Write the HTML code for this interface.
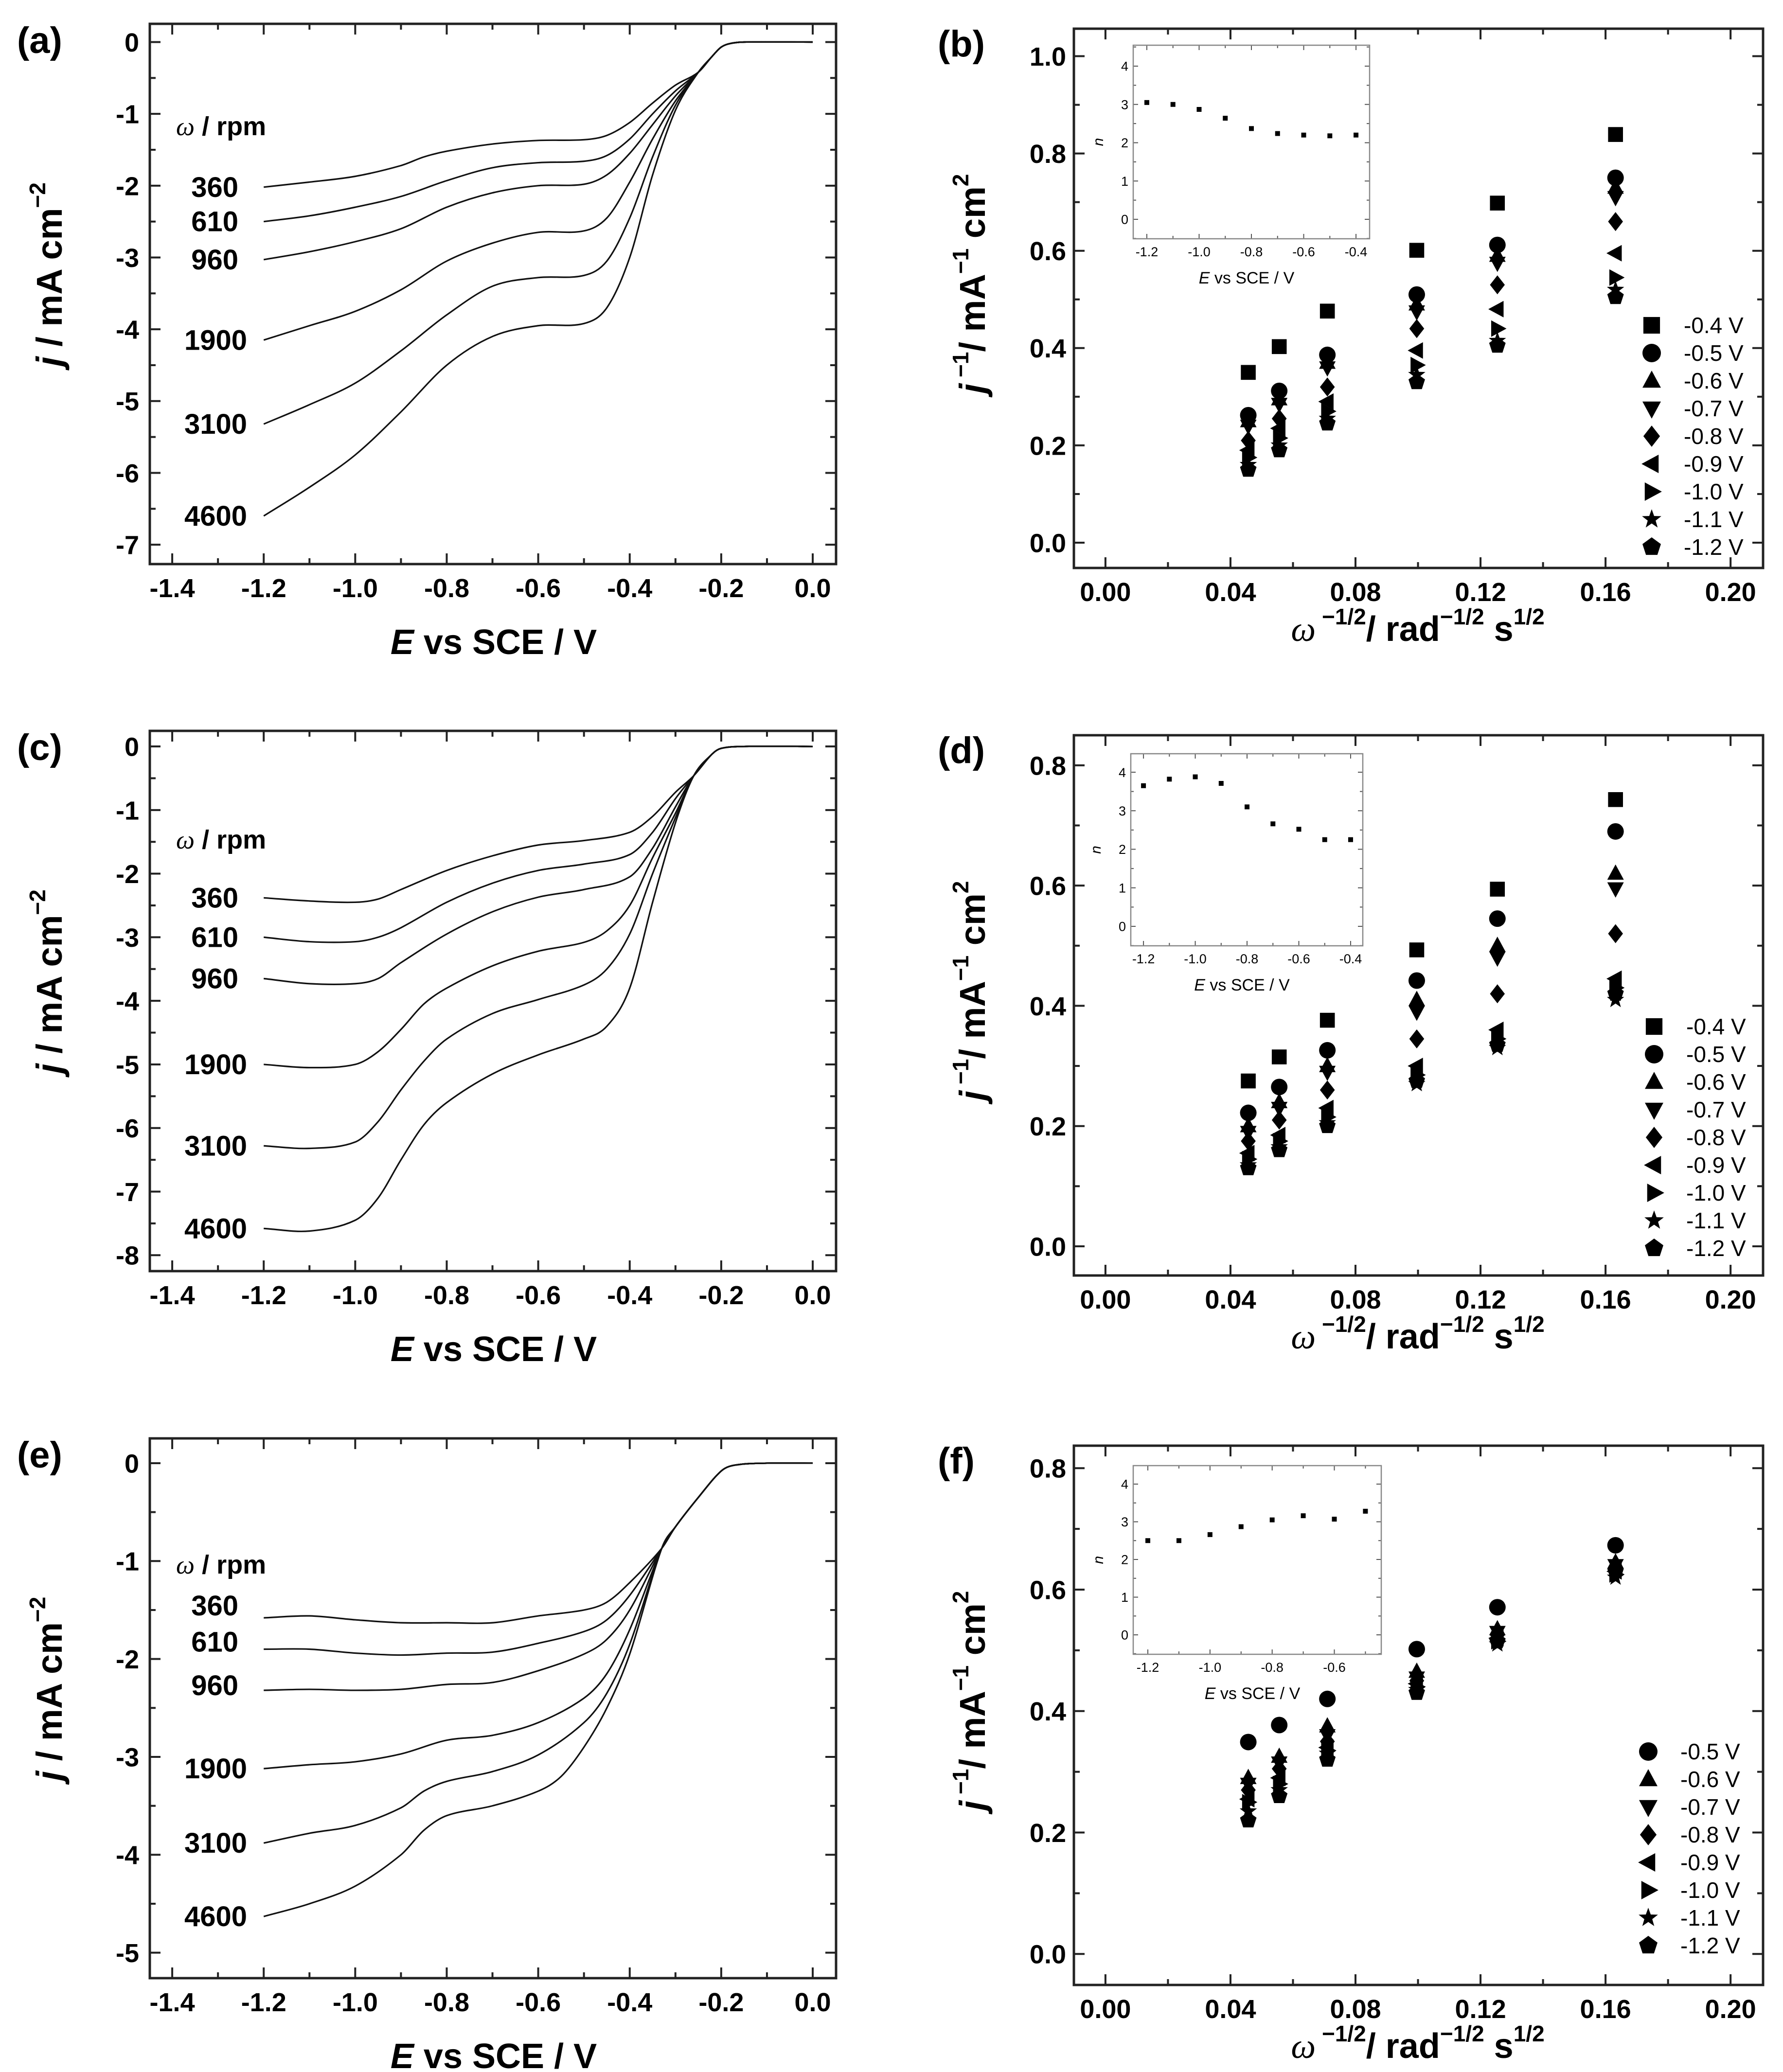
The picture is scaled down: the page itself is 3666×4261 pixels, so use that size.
<!DOCTYPE html>
<html><head><meta charset="utf-8"><style>
html,body{margin:0;padding:0;background:#fff;}
svg{display:block;}
text{font-family:"Liberation Sans",Arial,sans-serif;fill:#000;}
</style></head><body>
<svg id="fig" xmlns="http://www.w3.org/2000/svg" width="3666" height="4261" viewBox="0 0 3666 4261">
<rect width="3666" height="4261" fill="#fff"/>
</svg>
<script>
// ---------- data: panel (a) LSV curves [E, j] ----------
const rpmLabels = ["360","610","960","1900","3100","4600"];
const a360=[[-1.2,-2.02],[-1.1,-1.95],[-1.0,-1.87],[-0.9,-1.72],[-0.85,-1.6],[-0.8,-1.52],[-0.7,-1.42],[-0.6,-1.37],[-0.5,-1.36],[-0.45,-1.3],[-0.4,-1.12],[-0.35,-0.85],[-0.3,-0.6],[-0.25,-0.42],[-0.22,-0.2],[-0.2,-0.07],[-0.18,-0.02],[-0.15,0],[0,0]];
const a610=[[-1.2,-2.5],[-1.1,-2.42],[-1.0,-2.3],[-0.9,-2.15],[-0.8,-1.93],[-0.7,-1.75],[-0.6,-1.68],[-0.5,-1.66],[-0.45,-1.58],[-0.4,-1.35],[-0.35,-1.0],[-0.3,-0.68],[-0.25,-0.42],[-0.22,-0.2],[-0.2,-0.07],[-0.18,-0.02],[-0.15,0],[0,0]];
const a960=[[-1.2,-3.03],[-1.1,-2.92],[-1.0,-2.78],[-0.9,-2.6],[-0.8,-2.3],[-0.7,-2.1],[-0.6,-2.0],[-0.5,-1.98],[-0.45,-1.85],[-0.4,-1.55],[-0.35,-1.15],[-0.3,-0.75],[-0.25,-0.42],[-0.22,-0.2],[-0.2,-0.07],[-0.18,-0.02],[-0.15,0],[0,0]];
const a1900=[[-1.2,-4.15],[-1.1,-3.95],[-1.0,-3.75],[-0.9,-3.45],[-0.8,-3.05],[-0.7,-2.8],[-0.6,-2.65],[-0.5,-2.63],[-0.45,-2.45],[-0.4,-1.95],[-0.35,-1.35],[-0.3,-0.82],[-0.25,-0.42],[-0.22,-0.2],[-0.2,-0.07],[-0.18,-0.02],[-0.15,0],[0,0]];
const a3100=[[-1.2,-5.32],[-1.1,-5.05],[-1.0,-4.75],[-0.9,-4.3],[-0.8,-3.8],[-0.7,-3.4],[-0.6,-3.28],[-0.5,-3.25],[-0.45,-3.05],[-0.4,-2.45],[-0.35,-1.6],[-0.3,-0.88],[-0.25,-0.42],[-0.22,-0.2],[-0.2,-0.07],[-0.18,-0.02],[-0.15,0],[0,0]];
const a4600=[[-1.2,-6.6],[-1.1,-6.2],[-1.0,-5.75],[-0.9,-5.15],[-0.8,-4.5],[-0.7,-4.1],[-0.6,-3.95],[-0.5,-3.92],[-0.45,-3.7],[-0.4,-3.0],[-0.35,-1.85],[-0.3,-0.95],[-0.25,-0.42],[-0.22,-0.2],[-0.2,-0.07],[-0.18,-0.02],[-0.15,0],[0,0]];
// ---------- panel (c) ----------
const c360=[[-1.2,-2.38],[-1.1,-2.43],[-1.0,-2.45],[-0.95,-2.4],[-0.9,-2.25],[-0.8,-1.95],[-0.7,-1.72],[-0.6,-1.55],[-0.5,-1.48],[-0.4,-1.35],[-0.35,-1.1],[-0.3,-0.72],[-0.26,-0.46],[-0.22,-0.12],[-0.2,-0.03],[-0.15,0],[0,0]];
const c610=[[-1.2,-3.0],[-1.1,-3.07],[-1.0,-3.07],[-0.95,-3.0],[-0.9,-2.85],[-0.8,-2.45],[-0.7,-2.15],[-0.6,-1.95],[-0.5,-1.85],[-0.4,-1.7],[-0.35,-1.35],[-0.3,-0.82],[-0.26,-0.46],[-0.22,-0.12],[-0.2,-0.03],[-0.15,0],[0,0]];
const c960=[[-1.2,-3.65],[-1.1,-3.73],[-1.0,-3.73],[-0.95,-3.65],[-0.9,-3.4],[-0.8,-2.95],[-0.7,-2.6],[-0.6,-2.37],[-0.5,-2.25],[-0.4,-2.05],[-0.35,-1.6],[-0.3,-0.95],[-0.26,-0.46],[-0.22,-0.12],[-0.2,-0.03],[-0.15,0],[0,0]];
const c1900=[[-1.2,-5.0],[-1.1,-5.05],[-1.0,-5.0],[-0.95,-4.8],[-0.9,-4.45],[-0.85,-4.05],[-0.8,-3.8],[-0.7,-3.45],[-0.6,-3.22],[-0.5,-3.08],[-0.45,-2.9],[-0.4,-2.5],[-0.35,-1.75],[-0.3,-1.05],[-0.26,-0.46],[-0.22,-0.12],[-0.2,-0.03],[-0.15,0],[0,0]];
const c3100=[[-1.2,-6.28],[-1.1,-6.32],[-1.0,-6.22],[-0.95,-5.9],[-0.9,-5.4],[-0.85,-4.95],[-0.8,-4.6],[-0.7,-4.2],[-0.6,-3.98],[-0.5,-3.75],[-0.45,-3.5],[-0.4,-2.95],[-0.35,-2.0],[-0.3,-1.12],[-0.26,-0.46],[-0.22,-0.12],[-0.2,-0.03],[-0.15,0],[0,0]];
const c4600=[[-1.2,-7.58],[-1.1,-7.62],[-1.0,-7.45],[-0.95,-7.1],[-0.9,-6.5],[-0.85,-5.95],[-0.8,-5.6],[-0.7,-5.15],[-0.6,-4.85],[-0.5,-4.6],[-0.45,-4.4],[-0.4,-3.8],[-0.35,-2.45],[-0.3,-1.2],[-0.26,-0.46],[-0.22,-0.12],[-0.2,-0.03],[-0.15,0],[0,0]];
// ---------- panel (e) ----------
const e360=[[-1.2,-1.58],[-1.1,-1.56],[-1.0,-1.6],[-0.9,-1.63],[-0.8,-1.63],[-0.7,-1.63],[-0.6,-1.56],[-0.5,-1.5],[-0.45,-1.42],[-0.4,-1.22],[-0.33,-0.87],[-0.3,-0.65],[-0.25,-0.35],[-0.2,-0.08],[-0.17,-0.02],[-0.1,0],[0,0]];
const e610=[[-1.2,-1.9],[-1.1,-1.9],[-1.0,-1.94],[-0.9,-1.96],[-0.8,-1.94],[-0.7,-1.93],[-0.6,-1.84],[-0.5,-1.72],[-0.45,-1.6],[-0.4,-1.35],[-0.33,-0.87],[-0.3,-0.65],[-0.25,-0.35],[-0.2,-0.08],[-0.17,-0.02],[-0.1,0],[0,0]];
const e960=[[-1.2,-2.32],[-1.1,-2.31],[-1.0,-2.32],[-0.9,-2.31],[-0.8,-2.26],[-0.7,-2.24],[-0.6,-2.12],[-0.5,-1.95],[-0.45,-1.8],[-0.4,-1.5],[-0.33,-0.87],[-0.3,-0.65],[-0.25,-0.35],[-0.2,-0.08],[-0.17,-0.02],[-0.1,0],[0,0]];
const e1900=[[-1.2,-3.12],[-1.1,-3.08],[-1.0,-3.05],[-0.9,-2.97],[-0.8,-2.83],[-0.7,-2.78],[-0.6,-2.65],[-0.5,-2.4],[-0.45,-2.15],[-0.4,-1.7],[-0.33,-0.87],[-0.3,-0.65],[-0.25,-0.35],[-0.2,-0.08],[-0.17,-0.02],[-0.1,0],[0,0]];
const e3100=[[-1.2,-3.88],[-1.1,-3.78],[-1.0,-3.7],[-0.9,-3.52],[-0.85,-3.35],[-0.8,-3.25],[-0.7,-3.15],[-0.6,-2.98],[-0.5,-2.65],[-0.45,-2.35],[-0.4,-1.85],[-0.33,-0.87],[-0.3,-0.65],[-0.25,-0.35],[-0.2,-0.08],[-0.17,-0.02],[-0.1,0],[0,0]];
const e4600=[[-1.2,-4.63],[-1.1,-4.5],[-1.0,-4.32],[-0.9,-4.0],[-0.85,-3.75],[-0.8,-3.6],[-0.7,-3.5],[-0.6,-3.35],[-0.55,-3.2],[-0.5,-2.9],[-0.45,-2.5],[-0.4,-1.95],[-0.33,-0.87],[-0.3,-0.65],[-0.25,-0.35],[-0.2,-0.08],[-0.17,-0.02],[-0.1,0],[0,0]];

// ---------- K-L scatter data ----------
const xOmega=[0.0457,0.0556,0.0710,0.0996,0.1254,0.1632];
const potLabels9=["-0.4 V","-0.5 V","-0.6 V","-0.7 V","-0.8 V","-0.9 V","-1.0 V","-1.1 V","-1.2 V"];
const markerTypes9=["square","circle","up","down","diamond","left","right","star","pentagon"];
const b04=[0.350,0.403,0.476,0.601,0.698,0.839];
const b05=[0.262,0.312,0.386,0.510,0.612,0.750];
const b06=[0.250,0.295,0.370,0.490,0.590,0.730];
const b07=[0.240,0.285,0.360,0.475,0.575,0.710];
const b08=[0.210,0.255,0.320,0.440,0.530,0.660];
const b09=[0.190,0.235,0.290,0.395,0.480,0.595];
const b10=[0.175,0.215,0.270,0.365,0.440,0.545];
const b11=[0.160,0.200,0.255,0.345,0.415,0.520];
const b12=[0.150,0.190,0.245,0.330,0.405,0.505];
const d04=[0.275,0.315,0.376,0.493,0.594,0.743];
const d05=[0.222,0.265,0.326,0.442,0.545,0.690];
const d06=[0.200,0.240,0.300,0.410,0.500,0.620];
const d07=[0.190,0.230,0.290,0.390,0.480,0.595];
const d08=[0.175,0.210,0.260,0.345,0.420,0.520];
const d09=[0.155,0.185,0.230,0.300,0.360,0.445];
const d10=[0.145,0.175,0.215,0.285,0.345,0.430];
const d11=[0.135,0.165,0.205,0.270,0.330,0.410];
const d12=[0.130,0.160,0.200,0.275,0.335,0.420];
const f05=[0.349,0.377,0.420,0.502,0.571,0.673];
const f06=[0.290,0.325,0.375,0.465,0.535,0.645];
const f07=[0.280,0.315,0.360,0.455,0.530,0.640];
const f08=[0.270,0.305,0.350,0.450,0.525,0.635];
const f09=[0.255,0.290,0.340,0.445,0.520,0.630];
const f10=[0.250,0.280,0.335,0.440,0.515,0.625];
const f11=[0.235,0.270,0.330,0.435,0.510,0.620];
const f12=[0.220,0.260,0.320,0.430,0.515,0.630];
// ---------- insets: n vs E ----------
const nE_b=[-1.2,-1.1,-1.0,-0.9,-0.8,-0.7,-0.6,-0.5,-0.4];
const n_b=[3.05,3.0,2.87,2.64,2.37,2.24,2.2,2.18,2.2];
const nE_d=[-1.2,-1.1,-1.0,-0.9,-0.8,-0.7,-0.6,-0.5,-0.4];
const n_d=[3.65,3.82,3.88,3.71,3.1,2.66,2.52,2.25,2.25];
const nE_f=[-1.2,-1.1,-1.0,-0.9,-0.8,-0.7,-0.6,-0.5];
const n_f=[2.5,2.5,2.66,2.87,3.05,3.16,3.07,3.28];

const NS="http://www.w3.org/2000/svg";
const svg=document.getElementById('fig');
function el(tag,attrs,parent){const e=document.createElementNS(NS,tag);for(const k in attrs)e.setAttribute(k,attrs[k]);(parent||svg).appendChild(e);return e;}
function txt(s,attrs,parent){const t=el('text',attrs,parent);t.textContent=s;return t;}

function scales(c){
  c.sx=v=>c.L+(v-c.xmin)/(c.xmax-c.xmin)*(c.R-c.L);
  c.sy=v=>c.B-(v-c.ymin)/(c.ymax-c.ymin)*(c.B-c.T);
}
function ticks(g,c,opt){
  const lw=opt.lw, maj=opt.maj, min=opt.min;
  const eps=1e-9;
  for(let v=Math.ceil((c.xmin)/c.xminor-eps)*c.xminor; v<=c.xmax+eps; v+=c.xminor){
    const isMaj=Math.abs(v/c.xmajor-Math.round(v/c.xmajor))<1e-6;
    const x=c.sx(v), len=isMaj?maj:min;
    el('line',{x1:x,y1:c.B,x2:x,y2:c.B-len,stroke:opt.col,'stroke-width':lw},g);
    el('line',{x1:x,y1:c.T,x2:x,y2:c.T+len,stroke:opt.col,'stroke-width':lw},g);
    if(isMaj && (v>=c.xlabMin-eps) && v<=c.xlabMax+eps){
      const t=txt(c.xfmt(v),{x:x,y:c.B+opt.xly,'text-anchor':'middle','font-size':opt.fs,'font-weight':opt.fw},g);
      
      
    }
  }
  for(let v=Math.ceil((c.ymin)/c.yminor-eps)*c.yminor; v<=c.ymax+eps; v+=c.yminor){
    const isMaj=Math.abs(v/c.ymajor-Math.round(v/c.ymajor))<1e-6;
    const y=c.sy(v), len=isMaj?maj:min;
    el('line',{x1:c.L,y1:y,x2:c.L+len,y2:y,stroke:opt.col,'stroke-width':lw},g);
    el('line',{x1:c.R,y1:y,x2:c.R-len,y2:y,stroke:opt.col,'stroke-width':lw},g);
    if(isMaj && v>=c.ylabMin-eps && v<=c.ylabMax+eps){
      const t=txt(c.yfmt(v),{x:c.L-opt.ylx,y:y+opt.fs*0.36,'text-anchor':'end','font-size':opt.fs,'font-weight':opt.fw},g);
      
      
    }
  }
  el('rect',{x:c.L,y:c.T,width:c.R-c.L,height:c.B-c.T,fill:'none',stroke:opt.boxcol,'stroke-width':opt.boxw},g);
}
// monotone-x cubic using finite-difference slopes (no kinks with uneven spacing)
function smooth(pts){
  const n=pts.length, m=[];
  for(let i=0;i<n;i++){
    const a=pts[Math.max(0,i-1)], b=pts[Math.min(n-1,i+1)];
    m.push((b[1]-a[1])/(b[0]-a[0]));
  }
  let d=`M${pts[0][0]},${pts[0][1]}`;
  for(let i=0;i<n-1;i++){
    const p1=pts[i],p2=pts[i+1],h=(p2[0]-p1[0])/3;
    d+=` C${p1[0]+h},${p1[1]+m[i]*h} ${p2[0]-h},${p2[1]-m[i+1]*h} ${p2[0]},${p2[1]}`;
  }
  return d;
}
function marker(g,type,cx,cy,s){
  const r=s/2;let e;
  const poly=pts=>el('polygon',{points:pts.map(p=>p.join(',')).join(' '),fill:'#000'},g);
  if(type==='square')e=el('rect',{x:cx-r*0.9,y:cy-r*0.9,width:s*0.9,height:s*0.9,fill:'#000'},g);
  else if(type==='circle')e=el('circle',{cx:cx,cy:cy,r:r,fill:'#000'},g);
  else if(type==='up')e=poly([[cx,cy-r*1.1],[cx+r,cy+r*0.75],[cx-r,cy+r*0.75]]);
  else if(type==='down')e=poly([[cx,cy+r*1.1],[cx+r,cy-r*0.75],[cx-r,cy-r*0.75]]);
  else if(type==='diamond')e=poly([[cx,cy-r*1.15],[cx+r*0.9,cy],[cx,cy+r*1.15],[cx-r*0.9,cy]]);
  else if(type==='left')e=poly([[cx-r*1.1,cy],[cx+r*0.75,cy-r],[cx+r*0.75,cy+r]]);
  else if(type==='right')e=poly([[cx+r*1.1,cy],[cx-r*0.75,cy-r],[cx-r*0.75,cy+r]]);
  else if(type==='star'){const p=[];for(let i=0;i<10;i++){const a=-Math.PI/2+i*Math.PI/5;const rr=i%2?r*0.45:r*1.1;p.push([cx+rr*Math.cos(a),cy+rr*Math.sin(a)]);}e=poly(p);}
  else if(type==='pentagon'){const p=[];for(let i=0;i<5;i++){const a=-Math.PI/2+i*2*Math.PI/5;p.push([cx+r*1.05*Math.cos(a),cy+r*1.05*Math.sin(a)]);}e=poly(p);}
  return e;
}

// ---------- left panels (LSV) ----------
function lsvPanel(letter,c,curves,labOffsets){
  const g=el('g',{});
  
  
  scales(c);
  Object.assign(c,{xmajor:0.2,xminor:0.1,ymajor:1,yminor:0.5,xlabMin:-1.4,xlabMax:0,ylabMin:-20,ylabMax:0,
    xfmt:v=>v.toFixed(1).replace('-0.0','0.0'),yfmt:v=>String(Math.round(v))});
  ticks(g,c,{lw:4,maj:22,min:12,col:'#222',boxcol:'#222',boxw:5,fs:54,fw:'bold',xly:68,ylx:22});
  curves.forEach((pts,i)=>{
    const p=el('path',{d:smooth(pts.map(q=>[c.sx(q[0]),c.sy(q[1])])),fill:'none',stroke:'#111','stroke-width':3.2},g);
    
    
    const t=txt(rpmLabels[i],{x:(i<3?490:508),y:c.sy(pts[0][1])+20+(labOffsets[i]||0),'text-anchor':'end','font-size':58,'font-weight':'bold'},g);
    
    
  });
  const w=el('text',{x:362,y:c.rpmY,'font-size':54,'font-weight':'bold'},g);
  
  
  w.innerHTML='<tspan font-family="Liberation Serif, serif" font-style="italic" font-weight="normal">ω</tspan> / rpm';
  const pl=txt('('+letter+')',{x:35,y:c.T+60,'font-size':76,'font-weight':'bold'},g);
  
  
  const yt=el('text',{transform:`translate(127,${(c.T+c.B)/2-40}) rotate(-90)`,'text-anchor':'middle','font-size':74,'font-weight':'bold'},g);
  
  
  yt.innerHTML='<tspan font-style="italic">j</tspan> / mA cm<tspan dy="-34" font-size="46">−2</tspan>';
  const xt=el('text',{x:1015,y:c.B+185,'text-anchor':'middle','font-size':72,'font-weight':'bold'},g);
  
  
  xt.innerHTML='<tspan font-style="italic">E</tspan> vs SCE / V';
}
lsvPanel('a',{L:308,R:1719,T:49,B:1160,xmin:-1.449,xmax:0.051,ymin:-7.27,ymax:0.254,rpmY:278},[a360,a610,a960,a1900,a3100,a4600],[]);
lsvPanel('c',{L:308,R:1719,T:1503,B:2614,xmin:-1.449,xmax:0.051,ymin:-8.25,ymax:0.245,rpmY:1745},[c360,c610,c960,c1900,c3100,c4600],[]);
lsvPanel('e',{L:308,R:1719,T:2958,B:4068,xmin:-1.449,xmax:0.051,ymin:-5.26,ymax:0.253,rpmY:3236},[e360,e610,e960,e1900,e3100,e4600],[-25,-15,-10,0,0,0]);

// ---------- right panels (K-L) ----------
function klPanel(letter,c,series,types,labels,inset){
  const g=el('g',{});
  
  
  scales(c);
  Object.assign(c,{xmajor:0.04,xminor:0.02,ymajor:0.2,yminor:0.1,xlabMin:0,xlabMax:0.2,ylabMin:0,ylabMax:1.0,
    xfmt:v=>Math.abs(v).toFixed(2),yfmt:v=>Math.abs(v).toFixed(1)});
  ticks(g,c,{lw:4,maj:22,min:12,col:'#222',boxcol:'#222',boxw:5,fs:54,fw:'bold',xly:68,ylx:16});
  for(let s=series.length-1;s>=0;s--){
    series[s].forEach((v,i)=>{
      const m=marker(g,types[s],c.sx(xOmega[i]),c.sy(v),34);
      
      
    });
  }
  types.forEach((t,i)=>{
    const y=c.legY+i*57;
    const m=marker(g,t,c.legX,y,38);
    
    
    const lt=txt(labels[i],{x:c.legX+66,y:y+16,'font-size':46},g);
    
    
  });
  const pl=txt('('+letter+')',{x:1928,y:c.T+57,'font-size':76,'font-weight':'bold'},g);
  
  
  const yt=el('text',{transform:`translate(2025,${(c.T+c.B)/2-30}) rotate(-90)`,'text-anchor':'middle','font-size':74,'font-weight':'bold'},g);
  
  
  yt.innerHTML='<tspan font-style="italic">j</tspan><tspan dy="-34" font-size="46"> −1</tspan><tspan dy="34">/ mA</tspan><tspan dy="-34" font-size="46">−1</tspan><tspan dy="34"> cm</tspan><tspan dy="-34" font-size="46">2</tspan>';
  const xt=el('text',{x:2915,y:c.B+150,'text-anchor':'middle','font-size':72,'font-weight':'bold'},g);
  
  
  xt.innerHTML='<tspan font-family="Liberation Serif, serif" font-style="italic" font-weight="normal">ω</tspan><tspan dy="-34" font-size="46"> −1/2</tspan><tspan dy="34">/ rad</tspan><tspan dy="-34" font-size="46">−1/2</tspan><tspan dy="34"> s</tspan><tspan dy="-34" font-size="46">1/2</tspan>';
  const ig=el('g',{},g);
  
  
  const ic=inset;
  scales(ic);
  Object.assign(ic,{xmajor:0.2,xminor:0.1,ymajor:1,yminor:0.5,xlabMin:-1.2,xlabMax:-0.4,ylabMin:0,ylabMax:4,
    xfmt:v=>v.toFixed(1),yfmt:v=>String(Math.round(v))});
  ticks(ig,ic,{lw:2,maj:10,min:6,col:'#555',boxcol:'#888',boxw:2.5,fs:27,fw:'normal',xly:36,ylx:10});
  ic.E.forEach((e,i)=>{
    const r=el('rect',{x:ic.sx(e)-5,y:ic.sy(ic.n[i])-5,width:10,height:10,fill:'#000'},ig);
    
    
  });
  const nl=el('text',{transform:`translate(${ic.L-62},${(ic.T+ic.B)/2}) rotate(-90)`,'text-anchor':'middle','font-size':30,'font-style':'italic'},ig);
  nl.textContent='n';
  
  
  const it=el('text',{x:(ic.L+ic.R)/2-10,y:ic.B+92,'text-anchor':'middle','font-size':34},ig);
  
  
  it.innerHTML='<tspan font-style="italic">E</tspan> vs SCE / V';
}
klPanel('b',{L:2208,R:3625,T:59,B:1168,xmin:-0.0101,xmax:0.2104,ymin:-0.052,ymax:1.0565,legX:3396,legY:669},
  [b04,b05,b06,b07,b08,b09,b10,b11,b12],markerTypes9,potLabels9,
  {L:2330,R:2816,T:93,B:491,xmin:-1.252,xmax:-0.348,ymin:-0.508,ymax:4.546,E:nE_b,n:n_b});
klPanel('d',{L:2208,R:3625,T:1512,B:2623,xmin:-0.0101,xmax:0.2104,ymin:-0.0485,ymax:0.850,legX:3401,legY:2111},
  [d04,d05,d06,d07,d08,d09,d10,d11,d12],markerTypes9,potLabels9,
  {L:2325,R:2802,T:1550,B:1945,xmin:-1.249,xmax:-0.353,ymin:-0.505,ymax:4.48,E:nE_d,n:n_d});
klPanel('f',{L:2208,R:3625,T:2973,B:4082,xmin:-0.0101,xmax:0.2104,ymin:-0.051,ymax:0.837,legX:3389,legY:3602},
  [f05,f06,f07,f08,f09,f10,f11,f12],markerTypes9.slice(1),potLabels9.slice(1),
  {L:2330,R:2840,T:3014,B:3402,xmin:-1.247,xmax:-0.449,ymin:-0.516,ymax:4.49,E:nE_f,n:n_f});
</script>
</body></html>
